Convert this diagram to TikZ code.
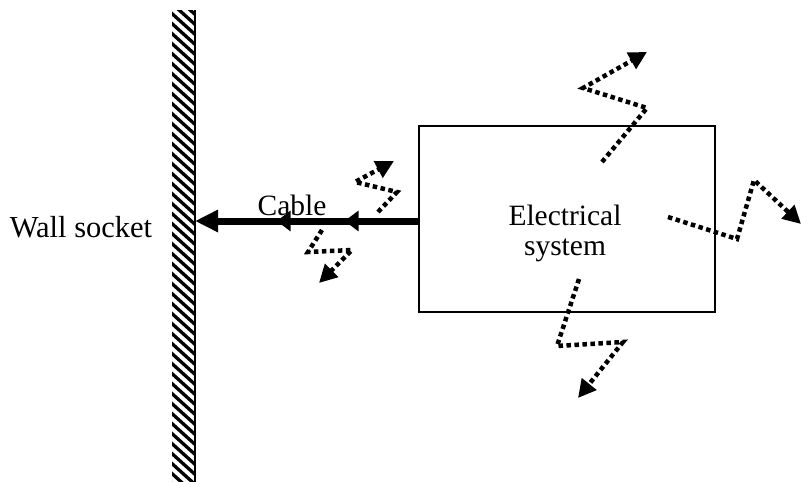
\documentclass[tikz,border=0pt]{standalone}
\usepackage{fontspec}
\setmainfont{Liberation Serif}
\usetikzlibrary{arrows.meta,decorations.markings}
\tikzset{
  lbl/.style={font=\fontsize{29.5}{30}\selectfont, inner sep=0pt},
  sysbox/.style={draw, line width=1.5pt, minimum width=296pt, minimum height=186pt, inner sep=0pt},
  cable/.style={line width=7pt, -{Triangle[length=23pt,width=21pt]},
    postaction={decorate, decoration={markings,
      mark=at position 0.33 with {\arrow{Triangle[length=14pt,width=20pt]}},
      mark=at position 0.634 with {\arrow{Triangle[length=14pt,width=20pt]}}}}},
  radiate/.style={line width=4.5pt, line cap=butt, line join=miter, dash pattern=on 4.5pt off 3.5pt,
    -{Triangle[length=18pt,width=18pt]}},
  hatch/.style={line width=3.3pt}
}
\begin{document}
\begin{tikzpicture}[x=1pt,y=-1pt]
\useasboundingbox (0,0) rectangle (801,482);
% wall
\begin{scope}
\clip (172,10) rectangle (195,482);
\foreach \y in {-30,-20,...,490} \draw[hatch] (168,\y) -- (199,\y+28);
\end{scope}
\draw[line width=2pt] (195,10) -- (195,482);
\coordinate (wall) at (195,221);
\node[lbl, anchor=base, font=\fontsize{30.5}{31}\selectfont] (ws) at (81,237) {Wall socket};
% system box
\node[sysbox] (sys) at (567,219) {};
\node[lbl, anchor=base, align=center] (systxt) at (565,255) {Electrical\\system};
% cable
\draw[cable] (sys.west |- wall) -- (wall);
\node[lbl, anchor=base] (cab) at (292,215) {Cable};
% radiation arrows
\draw[radiate] (602,162) -- (647,108) -- (583,88) -- (647,52);
\draw[radiate] (668,217) -- (737,239) -- (754,180) -- (801,224);
\draw[radiate] (579,279) -- (557,346) -- (623,342) -- (578,398);
\draw[radiate] (378,212) -- (397,192) -- (355,182) -- (394,161);
\draw[radiate] (322,230) -- (308,252) -- (352,250) -- (319,283);
\end{tikzpicture}
\end{document}
